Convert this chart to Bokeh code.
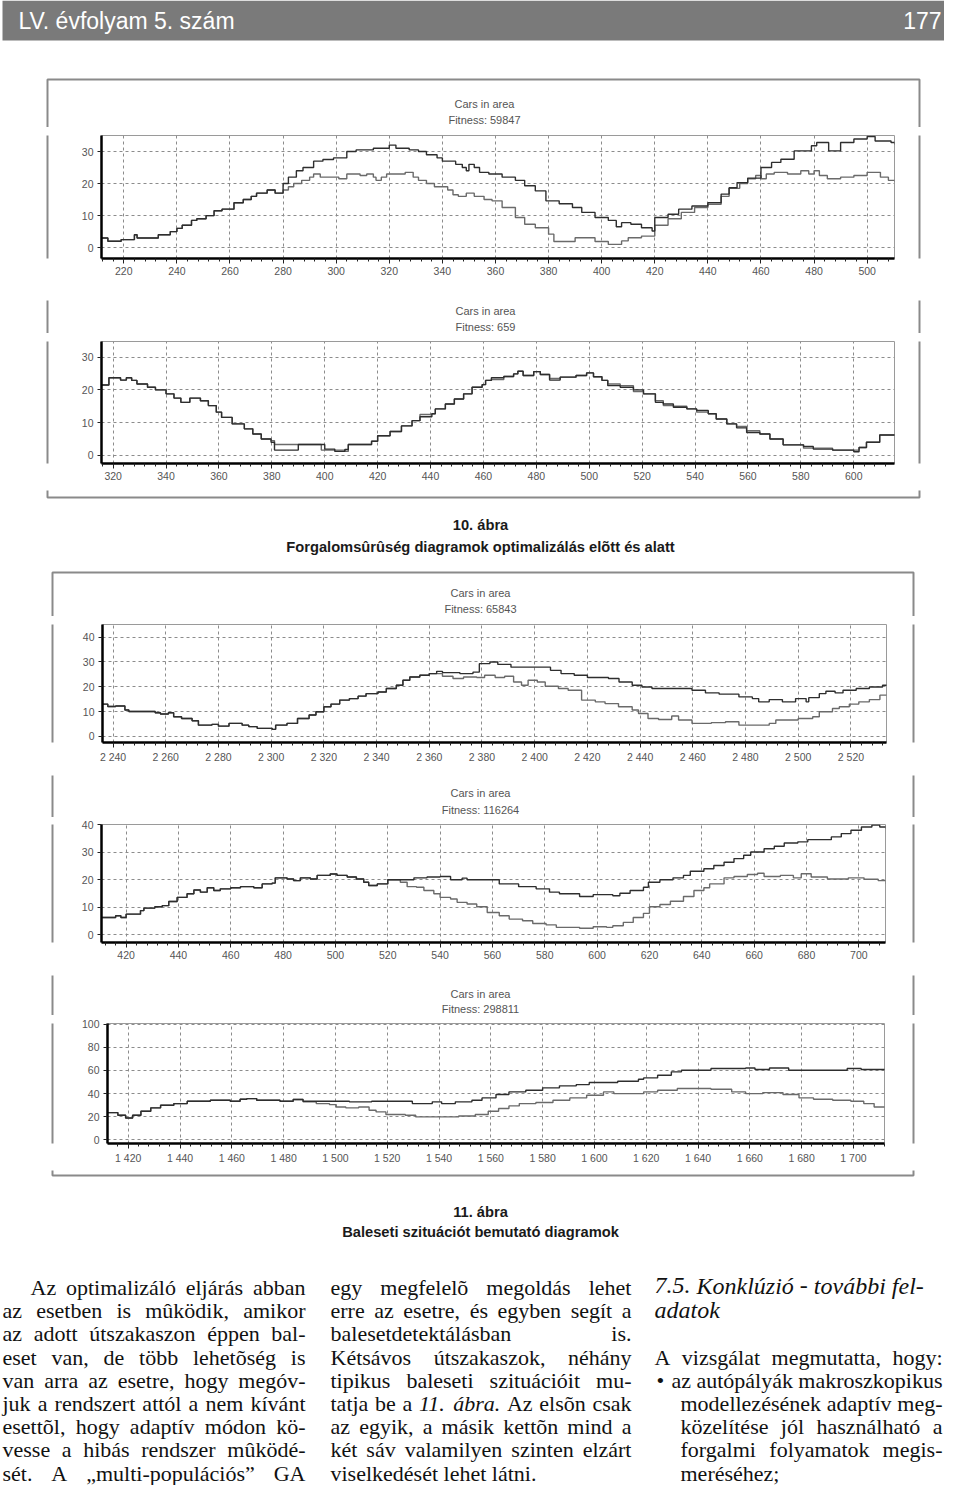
import unicodedata
from bokeh.plotting import figure
from bokeh.layouts import column, row
from bokeh.models import Range1d, FixedTicker
from bokeh.core.properties import value
from bokeh.embed import file_html
from bokeh.resources import INLINE

# ------------------------------------------------------------------ texts
header_left = "LV. évfolyam 5. szám"
header_right = "177"
cap10_num = "10. ábra"
cap10_title = "Forgalomsûrûség diagramok optimalizálás elõtt és alatt"
cap11_num = "11. ábra"
cap11_title = "Baleseti szituációt bemutató diagramok"
chart_title = "Cars in area"
fitness_labels = ["Fitness: 59847", "Fitness: 659", "Fitness: 65843",
                  "Fitness: 116264", "Fitness: 298811"]

col1_lines = [
    "Az optimalizáló eljárás abban",
    "az esetben is mûködik, amikor",
    "az adott útszakaszon éppen bal-",
    "eset van, de több lehetõség is",
    "van arra az esetre, hogy megóv-",
    "juk a rendszert attól a nem kívánt",
    "esettõl, hogy adaptív módon kö-",
    "vesse a hibás rendszer mûködé-",
    "sét. A „multi-populációs” GA",
]
col2_lines = [
    "egy megfelelõ megoldás lehet",
    "erre az esetre, és egyben segít a",
    "balesetdetektálásban is.",
    "Kétsávos útszakaszok, néhány",
    "tipikus baleseti szituációit mu-",
    "tatja be a _11. _ábra. Az elsõn csak",
    "az egyik, a másik kettõn mind a",
    "két sáv valamilyen szinten elzárt",
    "viselkedését lehet látni.",
]
col3_heading = ["7.5. Konklúzió - további fel-", "adatok"]
col3_intro = "A vizsgálat megmutatta, hogy:"
col3_bullet = "•"
col3_item = [
    "az autópályák makroszkopikus",
    "modellezésének adaptív meg-",
    "közelítése jól használható a",
    "forgalmi folyamatok megis-",
    "meréséhez;",
]

# ------------------------------------------------------------------ chart data
c1_xticks = [220, 240, 260, 280, 300, 320, 340, 360, 380, 400, 420, 440, 460, 480, 500]
c1_yticks = [0, 10, 20, 30]
c1_a_x = [211.6, 214, 219, 224, 225, 233, 237.5, 240, 242, 245.5,
          247.5, 251, 254, 257, 261.5, 265, 268, 270, 274, 277,
          280, 282, 285, 287.5, 291.5, 295, 299, 304, 307.5, 314,
          320, 322.5, 327.5, 331, 334, 338, 340, 345, 347.5, 349,
          350, 352, 354, 357.5, 362.5, 367.5, 371, 375, 379, 384,
          389, 392.5, 397.5, 402.5, 405.5, 407.5, 411, 415, 419, 420,
          425, 429, 434, 440, 445, 448, 451, 455, 460, 464,
          467.5, 472.5, 479, 481, 485.5, 490, 495, 500, 503, 509,
          510.5]
c1_a_y = [3, 2, 2.5, 4, 3, 4, 5, 6, 7, 8.5,
          9, 10, 11.5, 12, 14, 15, 16, 17, 18, 17,
          20, 22, 24, 25, 27, 27.5, 28, 30, 30.5, 31,
          32, 31, 30.5, 30, 29, 28, 27, 26, 25, 24,
          26, 25, 23.5, 23, 22, 21, 19.3, 17.7, 14.6, 13.7,
          12.5, 11, 9.4, 8.5, 6.5, 7.8, 7.3, 6.2, 5.2, 9.4,
          10.4, 12, 13, 14, 16.7, 18.7, 20.3, 21.7, 25, 26.6,
          27.6, 30.2, 31.8, 32.8, 30.2, 32.8, 33.9, 34.7, 33.3, 32.8,
          32.2]
c1_b_x = [211.6, 214, 219, 224, 225, 233, 237.5, 240, 242, 245.5,
          247.5, 251, 254, 257, 261.5, 265, 268, 270, 274, 277,
          280, 282, 284, 287, 290, 291.5, 294, 301, 304, 309,
          311.5, 314, 315, 317, 319, 326, 329, 331, 334, 337,
          342, 344, 346, 349, 352, 355.7, 358.7, 362.5, 367.5, 371,
          375, 380, 382, 390, 397.5, 402.5, 407.5, 410, 415, 420,
          425, 430, 435, 440, 445, 448, 452, 455, 458, 460,
          462, 465, 470, 475, 478, 480, 482, 485, 490, 495,
          500, 505, 508, 510.5]
c1_b_y = [3, 2, 2.5, 4, 3, 4, 5, 6, 7, 8.5,
          9, 10, 11.5, 12, 14, 15, 16, 17, 18, 17,
          18, 19, 20, 21, 22, 23, 22, 21.5, 23, 22.5,
          23, 22, 21, 22, 23, 23.5, 22, 21, 20, 19,
          18, 16.5, 16, 17, 16, 15, 14.6, 12.5, 9.4, 7.3,
          6.2, 4.2, 1.9, 3.1, 1.9, 1, 2.1, 3.1, 3.6, 7,
          9, 11, 12.5, 13.5, 16, 18.5, 20, 21.5, 22.5, 21.5,
          23, 23.5, 23, 24, 23, 24, 22.5, 21.5, 22, 22.5,
          23.5, 22, 21, 20.5]

c2_xticks = [320, 340, 360, 380, 400, 420, 440, 460, 480, 500, 520, 540, 560, 580, 600]
c2_yticks = [0, 10, 20, 30]
c2_x = [315.6, 318.4, 322.8, 325, 327, 329, 333, 336, 340, 343,
        345.6, 349, 353, 356, 359, 361, 365, 369.6, 372.8, 376,
        379.7, 381, 387, 390, 398.7, 400, 403.8, 407.6, 408.9, 417.7,
        420, 424.7, 429, 433, 436, 440.5, 441.8, 445.6, 449, 452.5,
        455.7, 459.5, 460.8, 463, 467.7, 471.4, 473, 475, 479, 481.5,
        485, 489, 495, 499, 501.6, 504.8, 507, 511.7, 516.7, 520.5,
        525, 528, 531.8, 536.9, 540.6, 545, 548, 552, 555.7, 559.5,
        564.5, 568.3, 573.3, 581, 584.7, 592, 600, 602, 604.8, 609.8,
        615.6]
c2_a_y = [21.5, 23.7, 23, 23.7, 22.9, 21.8, 20.8, 20, 18.8, 17.5,
          16.2, 17.5, 16.7, 15.2, 13.2, 11.6, 9.6, 8.1, 6.5, 5,
          4, 1.6, 1.6, 3.3, 3.3, 1.9, 1.2, 1.8, 3.3, 4.3,
          6, 7.3, 9, 10.6, 11.8, 12.7, 14.2, 15.7, 17.2, 18.8,
          20.8, 21.6, 22.9, 23.7, 24.1, 24.9, 25.7, 24.4, 25.6, 24.7,
          23, 23.9, 24.4, 25.2, 24, 22.9, 21.3, 20.8, 20, 18.8,
          16.2, 15.7, 14.7, 14.2, 13.7, 12.7, 11.1, 9.6, 8.4, 7,
          6.5, 5, 3.2, 2.7, 1.9, 1.6, 1.1, 2.4, 4, 6.2,
          6.2]
c2_b_y = [21.5, 23.7, 23, 23.7, 22.9, 21.8, 20.8, 20, 18.8, 17.5,
          16.2, 17.5, 16.7, 15.2, 13.2, 11.6, 9.6, 8.1, 6.5, 5,
          4.5, 3.3, 3.3, 3.3, 1.6, 1.6, 1.6, 1.2, 3.3, 4.3,
          6, 7.3, 9, 10.6, 12.5, 12.7, 14.2, 15.7, 17.2, 18.8,
          20.8, 21.6, 22.9, 23.2, 24.1, 24.9, 25.7, 24.4, 25.6, 24.7,
          23.5, 23.9, 24.4, 25.2, 24, 22.9, 21.8, 21.3, 19.5, 18.8,
          16.7, 15.2, 15, 14.2, 13.2, 12.7, 11.1, 9.6, 8.8, 7.5,
          6.5, 5, 3.2, 2.2, 2.2, 1.6, 1.6, 2.4, 4, 6.2,
          6.2]

c3_xticks = [2240, 2260, 2280, 2300, 2320, 2340, 2360, 2380, 2400, 2420, 2440, 2460, 2480, 2500, 2520]
c3_yticks = [0, 10, 20, 30, 40]
c3_a_x = [2236, 2238, 2241, 2244.5, 2246, 2256, 2258, 2261, 2263, 2266,
          2270, 2272.4, 2277.5, 2280, 2284, 2289, 2291.5, 2294.7, 2300.4, 2301.7,
          2306, 2310, 2314.4, 2317, 2320, 2322.7, 2326, 2329.7, 2333, 2336,
          2340.5, 2343.7, 2347.5, 2350, 2352.6, 2356.4, 2360, 2362.8, 2365, 2371.6,
          2376.6, 2379, 2383, 2386, 2391, 2406, 2410, 2415, 2420, 2428,
          2432, 2437, 2440.7, 2444.5, 2459.7, 2464.8, 2470, 2477.5, 2482.6, 2485,
          2489, 2494, 2499, 2503, 2504, 2508, 2510.5, 2514, 2517, 2522,
          2527, 2532, 2534]
c3_a_y = [13, 12, 12.2, 10.6, 10, 9.5, 9, 9.5, 7.9, 7.2,
          6.3, 4.5, 4.8, 4.1, 5.2, 4.5, 3.9, 3.2, 2.8, 4.5,
          5.2, 7.2, 8.6, 9.9, 11.9, 13, 14.6, 15.2, 16.2, 17.2,
          17.9, 19.3, 20.6, 22.6, 23.9, 24.6, 25.3, 26.2, 25.7, 25.3,
          25.9, 29.3, 30, 29, 27.9, 26.6, 25.3, 24.6, 23.7, 23.3,
          21.9, 20.6, 19.9, 19.3, 18.6, 17.5, 17, 15.9, 15.2, 13.9,
          14.8, 13.9, 15.2, 13.9, 15.6, 17.2, 18.2, 17.5, 18.6, 19.3,
          19.9, 20.6, 21.5]
c3_b_x = [2236, 2238, 2241, 2244.5, 2246, 2256, 2258, 2261, 2263, 2266,
          2270, 2272.4, 2277.5, 2280, 2284, 2289, 2291.5, 2294.7, 2300.4, 2301.7,
          2306, 2310, 2314.4, 2317, 2320, 2322.7, 2326, 2329.7, 2333, 2336,
          2340.5, 2343.7, 2347.5, 2350, 2352.6, 2356.4, 2360, 2365, 2369, 2373,
          2378, 2381, 2385, 2388.6, 2392, 2395, 2397.5, 2401, 2404, 2409,
          2412.7, 2417.8, 2423, 2426.7, 2431.8, 2437, 2439.4, 2443, 2447, 2452,
          2454.6, 2459.7, 2467, 2472.4, 2477.5, 2489, 2491.5, 2500, 2505.5, 2508,
          2513, 2515.6, 2519.4, 2523, 2527, 2531, 2534]
c3_b_y = [13, 12, 12.2, 10.6, 10, 9.5, 9, 9.5, 7.9, 7.2,
          6.3, 4.5, 4.8, 4.1, 5.2, 4.5, 3.9, 3.2, 2.8, 4.5,
          5.2, 7.2, 8.6, 9.9, 11.9, 13, 14.6, 15.2, 16.2, 17.2,
          17.9, 19.3, 20.6, 22.6, 23.9, 24.6, 25.3, 24.2, 23.3, 23.9,
          23.7, 24.6, 23.7, 24.2, 21.9, 20.6, 22.6, 21.9, 20.2, 19.3,
          18.6, 14.6, 13.9, 13.2, 11.9, 10.6, 9.2, 7.2, 6.8, 8.2,
          6.6, 5.2, 5.5, 5.9, 4.5, 5.2, 6.6, 7.2, 7.9, 9.9,
          11.2, 11.9, 13, 13.9, 14.8, 16.6, 17.9]

c4_xticks = [420, 440, 460, 480, 500, 520, 540, 560, 580, 600, 620, 640, 660, 680, 700]
c4_yticks = [0, 10, 20, 30, 40]
c4_a_x = [410.6, 416, 418, 420, 425.5, 426.8, 431, 433.8, 436.3, 439.5,
          443.3, 445.9, 448.4, 451, 453.5, 456, 460, 463.7, 468.8, 472,
          475.8, 477, 481.5, 484, 486.6, 490.4, 493, 498, 500.6, 504.5,
          508, 510.8, 512.7, 516, 520, 524.8, 530, 535, 540, 544,
          548.4, 550.3, 562.6, 570, 576.7, 581.8, 585.6, 593.3, 598.5, 606,
          608.7, 612.6, 617.7, 619.6, 624, 629, 633, 635.6, 640.8, 644.6,
          648.5, 652.3, 656, 658.7, 663.8, 667.7, 671.5, 676.7, 680.5, 689.5,
          693.3, 697, 701, 705, 708, 710.5]
c4_a_y = [6.2, 6.8, 6.2, 7.4, 8.7, 9.6, 10.1, 10.5, 12, 13.5,
          14.8, 16.2, 15.4, 17, 16, 16.6, 17, 17.4, 17, 18.4,
          18.7, 20.6, 20.2, 19.6, 20.6, 20.2, 21.5, 22, 21.5, 20.9,
          20.2, 19, 17.8, 18.4, 19.9, 19.9, 20.6, 20.9, 21.1, 19.9,
          20.5, 19.9, 18.4, 17.4, 16.6, 15.4, 14.8, 13.8, 14.5, 14.1,
          15, 16, 17.2, 19, 19.9, 20.6, 21.5, 23, 23.9, 25.1,
          26.3, 27.6, 28.8, 30, 31.2, 32.1, 33.3, 33.7, 34.5, 35.5,
          36.7, 37.9, 39.1, 39.8, 39.1, 38.5]
c4_b_x = [410.6, 416, 418, 420, 425.5, 426.8, 431, 433.8, 436.3, 439.5,
          443.3, 445.9, 448.4, 451, 453.5, 456, 460, 463.7, 468.8, 472,
          475.8, 477, 481.5, 484, 486.6, 490.4, 493, 498, 500.6, 504.5,
          508, 510.8, 512.7, 516, 520, 524.8, 527.4, 531, 533.8, 537.6,
          540, 544, 546.5, 550.3, 554, 558, 562.6, 566.4, 571.5, 575.4,
          580.5, 584.4, 593.3, 598.5, 603.6, 606, 610, 613.8, 617.7, 620,
          624, 628, 633, 637, 640.8, 643, 648.5, 652.3, 657.4, 661.3,
          663.8, 670, 675, 678, 681.8, 688, 696, 702, 707.4, 710.5]
c4_b_y = [6.2, 6.8, 6.2, 7.4, 8.7, 9.6, 10.1, 10.5, 12, 13.5,
          14.8, 16.2, 15.4, 17, 16, 16.6, 17, 17.4, 17, 18.4,
          18.7, 20.6, 20.2, 19.6, 20.6, 20.2, 21.5, 22, 21.5, 20.9,
          20.2, 19, 17.8, 18.4, 19.9, 19, 17.4, 17.2, 16, 14.8,
          13.5, 12.9, 11.7, 11.1, 10.1, 8, 6.8, 5.6, 5, 4,
          3.5, 2.6, 2.3, 2.8, 2.6, 3.2, 4.4, 6.2, 7.7, 10.1,
          10.9, 12.1, 13.8, 16, 17, 18.4, 20.6, 21.1, 21.8, 22.3,
          21.1, 21.5, 20.6, 22.1, 20.9, 20.2, 20.6, 20.1, 19.6, 18.4]

c5_xticks = [1420, 1440, 1460, 1480, 1500, 1520, 1540, 1560, 1580, 1600, 1620, 1640, 1660, 1680, 1700]
c5_yticks = [0, 20, 40, 60, 80, 100]
c5_a_x = [1412, 1416, 1419, 1421.7, 1424.9, 1428.7, 1432.5, 1437.6, 1442.8, 1451.7,
          1459.4, 1463.2, 1465.8, 1469.6, 1478.6, 1483.7, 1487.5, 1505.4, 1514, 1529.7,
          1537.4, 1541, 1546.3, 1552.7, 1556.6, 1562, 1567, 1573.5, 1580, 1586.5,
          1593, 1598, 1609, 1617, 1619, 1624.4, 1629.7, 1633.6, 1645, 1658.4,
          1662, 1667.6, 1675, 1691, 1697.6, 1703, 1712.5]
c5_a_y = [23.6, 21.3, 19, 21.3, 24.8, 27.7, 30, 31.4, 33.4, 34.3,
          33.4, 35.2, 35.7, 34.3, 33.4, 34.9, 33.4, 32.9, 33.4, 31.4,
          32.9, 31.4, 32.9, 34.3, 36.3, 39.2, 41.5, 42.9, 45, 46.7,
          47.8, 49.6, 50.7, 52.4, 53.6, 55.9, 58.8, 60.2, 61.7, 62.2,
          60.8, 62.2, 60.2, 60.2, 61.7, 60.8, 60.8]
c5_b_x = [1412, 1416, 1419, 1421.7, 1424.9, 1428.7, 1432.5, 1437.6, 1442.8, 1451.7,
          1459.4, 1463.2, 1465.8, 1469.6, 1478.6, 1483.7, 1487.5, 1492.6, 1497.7, 1500.3,
          1504, 1509, 1513, 1515.7, 1519.5, 1527, 1531, 1547.6, 1554, 1559,
          1563, 1567, 1571, 1577.4, 1584, 1590.5, 1597, 1603.5, 1607.5, 1619,
          1624.4, 1632, 1645, 1653, 1658.4, 1665, 1672.8, 1679, 1684.6, 1692,
          1699, 1704, 1708, 1712.5]
c5_b_y = [23.6, 21.3, 19, 21.3, 24.8, 27.7, 30, 31.4, 33.4, 34.3,
          33.4, 35.2, 35.7, 34.3, 33.4, 34.9, 32.9, 31.4, 30.5, 28.5,
          27.7, 28.5, 25.6, 24.2, 21.9, 21.3, 19.9, 20.7, 21.9, 24.8,
          27.1, 29.4, 31.4, 32.3, 34.3, 36.3, 38.6, 41.5, 40, 41.5,
          42.9, 44.4, 43.8, 41.5, 40, 40.9, 39.2, 36.3, 35.2, 34.3,
          33.4, 31.4, 28.5, 28]

# ------------------------------------------------------------------ layout constants (picture px)
PW, PH = 944, 1485
SANS = "Liberation Sans"
SERIF = "Liberation Serif"
BODY = 22
HEAD = 24

ROMAN = {' ': 250, 'a': 444, 'b': 500, 'c': 444, 'd': 500, 'e': 444, 'f': 333, 'g': 500,
         'h': 500, 'i': 278, 'j': 278, 'k': 500, 'l': 278, 'm': 778, 'n': 500, 'o': 500,
         'p': 500, 'q': 500, 'r': 333, 's': 389, 't': 278, 'u': 500, 'v': 500, 'w': 722,
         'x': 500, 'y': 500, 'z': 444, 'A': 722, 'B': 667, 'C': 667, 'D': 722, 'E': 611,
         'F': 556, 'G': 722, 'H': 722, 'I': 333, 'J': 389, 'K': 722, 'L': 611, 'M': 889,
         'N': 722, 'O': 722, 'P': 556, 'Q': 722, 'R': 667, 'S': 556, 'T': 611, 'U': 722,
         'V': 722, 'W': 944, 'X': 722, 'Y': 722, 'Z': 611, '.': 250, ',': 250, '-': 333,
         ':': 278, ';': 278, '„': 444, '”': 444, '•': 350}
ITALIC = dict(ROMAN)
ITALIC.update({'a': 500, 'f': 278, 'k': 444, 'm': 722, 'r': 389, 'v': 444, 'w': 667,
               'x': 444, 'y': 444, 'z': 389, 'A': 611, 'K': 667})


def text_width(s, size, italic=False):
    table = ITALIC if italic else ROMAN
    tot = 0
    for ch in s:
        if ch.isdigit():
            tot += 500
            continue
        base = ch if ch in table else unicodedata.normalize("NFD", ch)[0]
        tot += table.get(base, 500)
    return tot * size / 1000.0


words = {}


def add_word(x, y, t, size, italic):
    d = words.setdefault((size, italic), {"x": [], "y": [], "t": []})
    d["x"].append(x)
    d["y"].append(y)
    d["t"].append(t)


def set_line(line, xl, xr, yc, justify=True, size=BODY, force_italic=False):
    items = []
    for tk in line.split(" "):
        it = force_italic or tk.startswith("_")
        items.append((tk.lstrip("_"), it))
    widths = [text_width(w, size, it) for w, it in items]
    if justify and len(items) > 1:
        gap = max((xr - xl - sum(widths)) / (len(items) - 1), 2.0)
    else:
        gap = 0.25 * size
    x = xl
    for (w, it), wd in zip(items, widths):
        add_word(x, yc, w, size, it)
        x += wd + gap


LINE0, LSTEP = 1287.0, 23.2          # visual centres of the text lines
centres = [LINE0 + k * LSTEP for k in range(9)]

C1L, C1R = 2, 305
C2L, C2R = 330, 631
C3L, C3R = 651, 942
for k, ln in enumerate(col1_lines):
    set_line(ln, C1L + (28 if k == 0 else 0), C1R, centres[k], justify=True)
for k, ln in enumerate(col2_lines):
    set_line(ln, C2L, C2R, centres[k], justify=(k != len(col2_lines) - 1))
set_line(col3_heading[0], C3L + 3, C3R, centres[0] - 2, justify=False, size=HEAD, force_italic=True)
set_line(col3_heading[1], C3L + 3, C3R, centres[1] - 1, justify=False, size=HEAD, force_italic=True)
set_line(col3_intro, C3L + 3, C3R, centres[3], justify=True)
add_word(C3L + 5, centres[4], col3_bullet, BODY, False)
set_line(col3_item[0], C3L + 20, C3R, centres[4], justify=True)
for k in range(1, 5):
    set_line(col3_item[k], C3L + 29, C3R, centres[4 + k], justify=(k != 4))

# other page texts: (x, y, text, font, size, style, color, align)
page_texts = [
    (18, 20, header_left, SANS, "23px", "normal", "white", "left"),
    (941, 20, header_right, SANS, "23px", "normal", "white", "right"),
    (480, 524, cap10_num, SANS, "14.7px", "bold", "#1a1a1a", "center"),
    (480, 546, cap10_title, SANS, "14.7px", "bold", "#1a1a1a", "center"),
    (480, 1211, cap11_num, SANS, "14.7px", "bold", "#1a1a1a", "center"),
    (480, 1231, cap11_title, SANS, "14.7px", "bold", "#1a1a1a", "center"),
]
title_pos = [(484, 103, 119), (485, 310, 326), (480, 592, 608), (480, 792, 809), (480, 993, 1008)]
for (tx, ty1, ty2), fit in zip(title_pos, fitness_labels):
    page_texts.append((tx, ty1, chart_title, SANS, "11px", "normal", "#555555", "center"))
    page_texts.append((tx, ty2, fit, SANS, "11px", "normal", "#555555", "center"))

# rectangles: (left, right, top, bottom, fill, line)
page_rects = [
    (2, 960, 0, 40, "#7a7a7a", None),
    (47, 919, 79, 497, None, "#8a8a8a"),
    (52, 913, 572, 1175, None, "#8a8a8a"),
]


def strip(x0, y0, w, h):
    p = figure(width=w, height=h, x_range=Range1d(x0, x0 + w), y_range=Range1d(y0 + h, y0),
               output_backend="svg", toolbar_location=None, title=None, min_border=0,
               x_axis_type=None, y_axis_type=None)
    p.outline_line_color = None
    p.background_fill_color = "white"
    p.border_fill_color = "white"
    for (l, r, t, b, fill, line) in page_rects:
        if fill:
            p.quad(left=l, right=r, top=t, bottom=b, fill_color=fill, line_color=None)
        else:
            p.quad(left=l, right=r, top=t, bottom=b, fill_color=None,
                   line_color=line, line_width=2)
    for (tx, ty, txt, font, size, style, color, align) in page_texts:
        if x0 <= tx <= x0 + w and y0 <= ty < y0 + h:
            p.text(x=[tx], y=[ty], text=[txt], text_font=value(font), text_font_size=size,
                   text_font_style=style, text_color=color, text_align=align,
                   text_baseline="middle")
    if x0 == 0 and w == PW:
        for (size, it), d in words.items():
            sel = [i for i, yy in enumerate(d["y"]) if y0 <= yy < y0 + h]
            if not sel:
                continue
            p.text(x=[d["x"][i] for i in sel], y=[d["y"][i] for i in sel],
                   text=[d["t"][i] for i in sel], text_font=value(SERIF),
                   text_font_size=f"{size}px", text_font_style="italic" if it else "normal",
                   text_color="#111111", text_align="left", text_baseline="middle")
    return p


def fmt(t):
    return f"{t:,}".replace(",", " ")


CX0, CW = 60, 846


def chart(y0, h, frame, xr, yr, xticks, yticks, series):
    fl, ft, fr, fb = frame
    p = figure(width=CW, height=h, x_range=Range1d(*xr), y_range=Range1d(*yr),
               output_backend="svg", toolbar_location=None, title=None,
               min_border_left=fl - CX0, min_border_right=CX0 + CW - fr,
               min_border_top=ft - y0, min_border_bottom=y0 + h - fb)
    p.background_fill_color = "white"
    p.border_fill_color = "white"
    p.outline_line_color = "#9a9a9a"
    p.outline_line_width = 1
    minor = [v for v in range(int(xr[0]) + 1, int(xr[1]) + 1) if v % 4 == 0]
    p.xaxis.ticker = FixedTicker(ticks=xticks, minor_ticks=minor)
    p.yaxis.ticker = FixedTicker(ticks=yticks)
    p.xaxis.major_label_overrides = {t: fmt(t) for t in xticks}
    for ax in (p.xaxis[0], p.yaxis[0]):
        ax.axis_line_color = "#000000"
        ax.axis_line_width = 2.5
        ax.major_tick_line_color = "#222222"
        ax.minor_tick_line_color = "#222222"
        ax.major_tick_in = 0
        ax.minor_tick_in = 0
        ax.major_label_text_font = SANS
        ax.major_label_text_font_size = "10.5px"
        ax.major_label_text_color = "#555555"
    p.xaxis.major_tick_out = 5
    p.xaxis.minor_tick_out = 3
    p.xaxis.major_label_standoff = 3
    p.yaxis.major_tick_out = 4
    p.yaxis.minor_tick_out = 0
    p.yaxis.major_label_standoff = 4
    for g in (p.xgrid[0], p.ygrid[0]):
        g.grid_line_color = "#8c8c8c"
        g.grid_line_dash = "3 3"
        g.grid_line_width = 1
    colors = ["#6a6a6a", "#2e2e2e"]
    for (sx, sy), c in zip(series, colors):
        p.step(x=sx, y=sy, mode="after", line_color=c, line_width=1.4)
    return p


def chart_row(y0, h, ch):
    return row(strip(0, y0, CX0, h), ch, strip(CX0 + CW, y0, PW - CX0 - CW, h), spacing=0)


ch1 = chart(127, 173, (101, 135, 894, 258), (211.6, 510.3), (-3.4, 35), c1_xticks, c1_yticks,
            [(c1_b_x, c1_b_y), (c1_a_x, c1_a_y)])
ch2 = chart(333, 157, (101, 341, 894, 463), (315.6, 615.4), (-2.5, 34.8), c2_xticks, c2_yticks,
            [(c2_x, c2_b_y), (c2_x, c2_a_y)])
ch3 = chart(616, 159, (102, 624, 886, 742), (2236, 2533.5), (-2.5, 45.1), c3_xticks, c3_yticks,
            [(c3_b_x, c3_b_y), (c3_a_x, c3_a_y)])
ch4 = chart(817, 158, (101, 824, 885, 942), (410.6, 710.2), (-2.9, 40), c4_xticks, c4_yticks,
            [(c4_b_x, c4_b_y), (c4_a_x, c4_a_y)])
ch5 = chart(1015, 155, (107, 1023, 884, 1143), (1412, 1712), (-3.1, 100.6), c5_xticks, c5_yticks,
            [(c5_b_x, c5_b_y), (c5_a_x, c5_a_y)])

page = column(
    strip(0, 0, PW, 127),
    chart_row(127, 173, ch1),
    strip(0, 300, PW, 33),
    chart_row(333, 157, ch2),
    strip(0, 490, PW, 126),
    chart_row(616, 159, ch3),
    strip(0, 775, PW, 42),
    chart_row(817, 158, ch4),
    strip(0, 975, PW, 40),
    chart_row(1015, 155, ch5),
    strip(0, 1170, PW, PH - 1170),
    spacing=0,
)

open("out.html", "w").write(file_html(page, INLINE))
